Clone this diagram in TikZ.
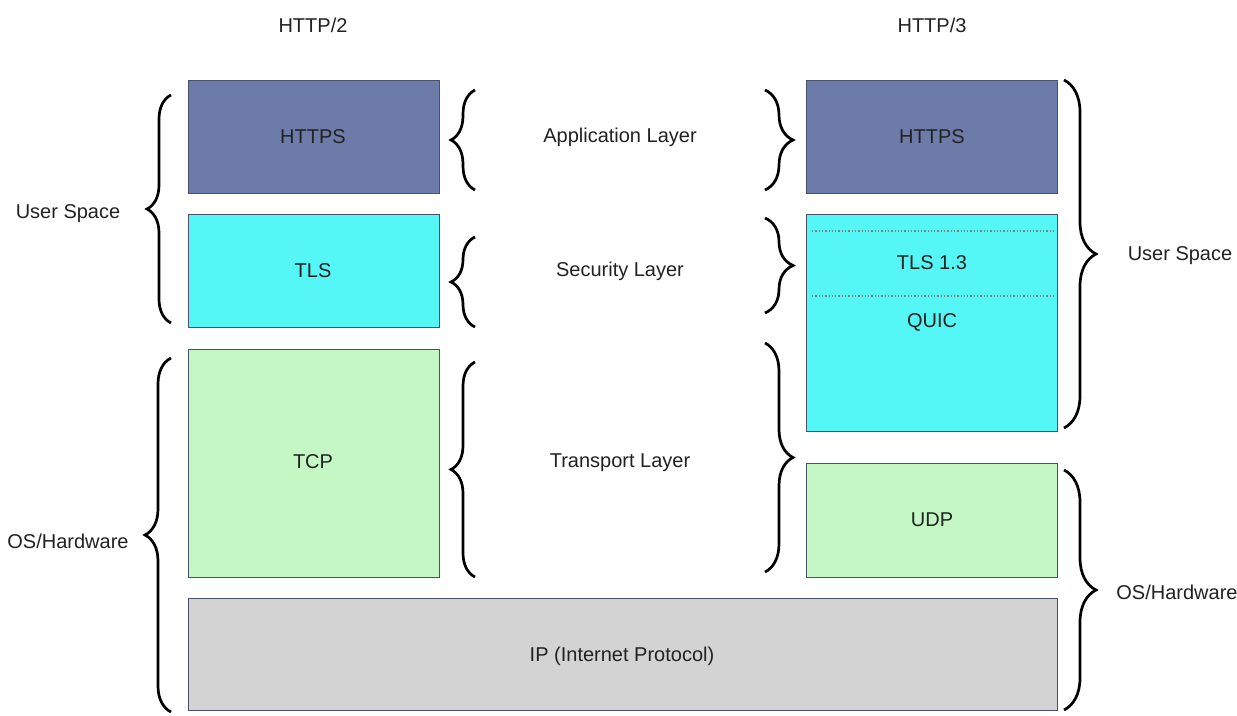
\documentclass[tikz,border=0pt]{standalone}
\usepackage{fontspec}
\setmainfont{Liberation Sans}
\usetikzlibrary{decorations.pathreplacing}
\definecolor{httpsc}{HTML}{6D7BA8}
\definecolor{tlsc}{HTML}{55F6F6}
\definecolor{tcpc}{HTML}{C4F7C4}
\definecolor{ipc}{HTML}{D3D3D3}
\definecolor{edgec}{HTML}{4A5068}
\definecolor{txtc}{HTML}{222222}
\tikzset{
  layerbox/.style={draw=edgec, line width=1pt, anchor=north west, inner sep=0pt},
  lbl/.style={text=txtc, font=\fontsize{20}{24}\selectfont, inner sep=0pt},
  cbrace/.style={decorate, decoration={brace, amplitude=#1}, line width=2.7pt, black},
}
\begin{document}
\begin{tikzpicture}[x=1pt, y=-1pt]
\useasboundingbox (0,0) rectangle (1237,715);
\fill[white] (0,0) rectangle (1237,715);
% HTTP/2 stack
\node[layerbox, fill=httpsc, minimum width=251pt, minimum height=113pt] (h2https) at (188,80) {};
\node[layerbox, fill=tlsc, minimum width=251pt, minimum height=113pt] (h2tls) at (188,214) {};
\node[layerbox, fill=tcpc, minimum width=251pt, minimum height=228pt] (h2tcp) at (188,349) {};
\node[layerbox, fill=ipc, minimum width=869pt, minimum height=112pt] (ip) at (188,598) {};
% HTTP/3 stack
\node[layerbox, fill=httpsc, minimum width=251pt, minimum height=113pt] (h3https) at (806,80) {};
\node[layerbox, fill=tlsc, minimum width=251pt, minimum height=217pt] (h3quic) at (806,214) {};
\node[layerbox, fill=tcpc, minimum width=251pt, minimum height=114pt] (h3udp) at (806,463) {};
\draw[gray, dotted, line width=1.3pt] ([xshift=6pt]h3quic.west |- 0,231) -- ([xshift=-2pt]h3quic.east |- 0,231);
\draw[gray, dotted, line width=1.3pt] ([xshift=6pt]h3quic.west |- 0,296) -- ([xshift=-2pt]h3quic.east |- 0,296);
% box texts
\node[lbl] at (313,137) {HTTPS};
\node[lbl] at (313,271) {TLS};
\node[lbl] at (313,462) {TCP};
\node[lbl] at (622,656) {IP (Internet Protocol)};
\node[lbl] at (932,137) {HTTPS};
\node[lbl] at (932,263) {TLS 1.3};
\node[lbl] at (932,322) {QUIC};
\node[lbl] at (932,520) {UDP};
% headings
\node[lbl] (t2) at (313,25) {HTTP/2};
\node[lbl] (t3) at (932,25) {HTTP/3};
\node[lbl] at (620,137) {Application Layer};
\node[lbl] at (620,271) {Security Layer};
\node[lbl] at (620,463) {Transport Layer};
\node[lbl] at (68,214) {User Space};
\node[lbl] at (68,541) {OS/Hardware};
\node[lbl] at (1180,256) {User Space};
\node[lbl] at (1177,592) {OS/Hardware};
% braces
\coordinate (lusb) at (171,323); \coordinate (lust) at (171,95);
\draw[cbrace=24pt] (lusb) -- (lust);
\coordinate (losb) at (171,712); \coordinate (lost) at (171,358);
\draw[cbrace=26pt] (losb) -- (lost);
\coordinate (mab) at (475,190); \coordinate (mat) at (475,90);
\draw[cbrace=24pt] (mab) -- (mat);
\coordinate (msb) at (475,327); \coordinate (mst) at (475,237);
\draw[cbrace=24pt] (msb) -- (mst);
\coordinate (mtb) at (475,577); \coordinate (mtt) at (475,362);
\draw[cbrace=24pt] (mtb) -- (mtt);
\coordinate (rat) at (765,90); \coordinate (rab) at (765,190);
\draw[cbrace=28pt] (rat) -- (rab);
\coordinate (rst) at (765,218); \coordinate (rsb) at (765,313);
\draw[cbrace=28pt] (rst) -- (rsb);
\coordinate (rtt) at (765,343); \coordinate (rtb) at (765,572);
\draw[cbrace=28pt] (rtt) -- (rtb);
\coordinate (ruct) at (1064,80); \coordinate (rucb) at (1064,428);
\draw[cbrace=32pt] (ruct) -- (rucb);
\coordinate (rot) at (1064,470); \coordinate (rob) at (1064,710);
\draw[cbrace=32pt] (rot) -- (rob);
\end{tikzpicture}
\end{document}
